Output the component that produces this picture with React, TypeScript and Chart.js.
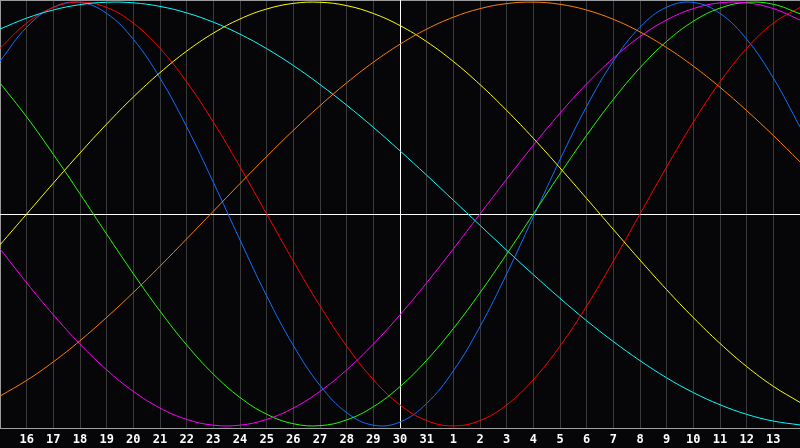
import React, { useEffect, useRef } from "react";
import { Chart, registerables } from "chart.js";

Chart.register(...registerables);

// Day labels, one per vertical grid line (left edge = 15, right edge = 14 of next month)
const dayLabels = [
  "15", "16", "17", "18", "19", "20", "21", "22", "23", "24", "25", "26", "27", "28", "29", "30", "31",
  "1", "2", "3", "4", "5", "6", "7", "8", "9", "10", "11", "12", "13", "14",
];

// Series values at each day (index 0..30)
const redValues = [
  0.7818, 0.901, 0.9749, 1, 0.9749, 0.901, 0.7818, 0.6235, 0.4339, 0.2225, 0,
  -0.2225, -0.4339, -0.6235, -0.7818, -0.901, -0.9749, -1, -0.9749, -0.901, -0.7818,
  -0.6235, -0.4339, -0.2225, 0, 0.2225, 0.4339, 0.6235, 0.7818, 0.901, 0.9749,
];
const blueValues = [
  0.7214, 0.8815, 0.9762, 0.9985, 0.9467, 0.8247, 0.6417, 0.4113, 0.1497, -0.1226, -0.3867,
  -0.6204, -0.809, -0.9376, -0.9966, -0.9818, -0.8941, -0.7402, -0.5314, -0.2828, -0.0137,
  0.2566, 0.5079, 0.7213, 0.8816, 0.9762, 0.9985, 0.9467, 0.8248, 0.6417, 0.4112,
];
const greenValues = [
  0.6182, 0.4582, 0.2815, 0.0951, -0.0951, -0.2815, -0.4582, -0.6182, -0.7557, -0.866, -0.945,
  -0.9898, -0.9989, -0.9718, -0.9096, -0.8146, -0.6901, -0.5407, -0.3717, -0.1893, 0,
  0.1893, 0.3717, 0.5407, 0.6901, 0.8146, 0.9096, 0.9718, 0.9989, 0.9898, 0.945,
];
const cyanValues = [
  0.8728, 0.9245, 0.963, 0.9881, 0.9994, 0.9966, 0.9798, 0.9492, 0.9053, 0.8488, 0.7803,
  0.7008, 0.6111, 0.5136, 0.4091, 0.298, 0.183, 0.0652, -0.0533, -0.171, -0.2863,
  -0.3977, -0.504, -0.6019, -0.692, -0.7731, -0.8429, -0.9003, -0.9455, -0.9773, -0.9955,
];
const yellowValues = [
  -0.1456, 0, 0.1456, 0.288, 0.4245, 0.552, 0.6672, 0.7686, 0.8536, 0.9204, 0.9675,
  0.994, 0.9993, 0.9834, 0.9464, 0.8893, 0.8133, 0.7199, 0.6108, 0.4889, 0.3573,
  0.2174, 0.073, -0.073, -0.2174, -0.3573, -0.4889, -0.6108, -0.7199, -0.8133, -0.8893,
];
const orangeValues = [
  -0.8594, -0.7853, -0.6978, -0.5981, -0.4879, -0.3705, -0.2462, -0.1175, 0.0131, 0.1435, 0.2713,
  0.3947, 0.5113, 0.6191, 0.7163, 0.8013, 0.8725, 0.9288, 0.9692, 0.9931, 0.9999,
  0.9897, 0.9625, 0.9188, 0.8594, 0.7853, 0.6978, 0.5981, 0.4879, 0.3705, 0.2462,
];
const magentaValues = [
  -0.1646, -0.3247, -0.4759, -0.6142, -0.7357, -0.8372, -0.9158, -0.9694, -0.9966, -0.9966, -0.9694,
  -0.9158, -0.8372, -0.7357, -0.6142, -0.4759, -0.3247, -0.1646, 0, 0.1646, 0.3247,
  0.4759, 0.6142, 0.7357, 0.8372, 0.9158, 0.9694, 0.9966, 0.9966, 0.9694, 0.9158,
];

const seriesList = [
  { name: "orange", color: "#ff8000", values: orangeValues },
  { name: "yellow", color: "#ffff00", values: yellowValues },
  { name: "cyan", color: "#00ffff", values: cyanValues },
  { name: "magenta", color: "#ff00ff", values: magentaValues },
  { name: "green", color: "#22ff00", values: greenValues },
  { name: "red", color: "#ff0000", values: redValues },
  { name: "blue", color: "#1070ff", values: blueValues },
];

const todayIndex = 15;
const yMin = -1.01;
const yMax = 1.01;

export default function App() {
  const ref = useRef<HTMLCanvasElement | null>(null);

  useEffect(() => {
    document.body.style.margin = "0";
    document.body.style.background = "#060608";
    const canvas = ref.current;
    if (!canvas) return;

    const framePlugin = {
      id: "frame",
      beforeDraw(chart: any) {
        const ctx = chart.ctx;
        ctx.save();
        ctx.fillStyle = "#060608";
        ctx.fillRect(0, 0, chart.width, chart.height);
        ctx.restore();
      },
      beforeDatasetsDraw(chart: any) {
        const ctx = chart.ctx;
        const a = chart.chartArea;
        const xs = chart.scales.x;
        const ys = chart.scales.y;
        ctx.save();
        ctx.lineWidth = 1;
        // top frame
        ctx.strokeStyle = "#9a9a9a";
        ctx.beginPath();
        ctx.moveTo(a.left, a.top + 0.5);
        ctx.lineTo(a.right, a.top + 0.5);
        ctx.stroke();
        // zero line and today line
        ctx.strokeStyle = "#ffffff";
        const y0 = Math.round(ys.getPixelForValue(0)) + 0.5;
        ctx.beginPath();
        ctx.moveTo(a.left, y0);
        ctx.lineTo(a.right, y0);
        ctx.stroke();
        const xt = Math.round(xs.getPixelForValue(todayIndex)) + 0.5;
        ctx.beginPath();
        ctx.moveTo(xt, a.top);
        ctx.lineTo(xt, a.bottom);
        ctx.stroke();
        ctx.restore();
      },
    };

    const datasets: any[] = seriesList.map((s) => ({
      label: s.name,
      data: s.values.map((v, idx) => ({ x: idx, y: v })),
      borderColor: s.color,
      borderWidth: 1,
      pointRadius: 0,
      pointHoverRadius: 0,
      tension: 0.4,
      fill: false,
    }));

    const chart = new Chart(canvas, {
      type: "line",
      data: { datasets },
      plugins: [framePlugin],
      options: {
        animation: false,
        responsive: false,
        devicePixelRatio: 1,
        layout: { padding: 0, autoPadding: false },
        plugins: { legend: { display: false }, tooltip: { enabled: false } },
        scales: {
          x: {
            type: "linear",
            min: 0,
            max: dayLabels.length - 1,
            afterFit(scale: any) {
              scale.height = 20;
              scale.paddingLeft = 0;
              scale.paddingRight = 0;
            },
            border: { display: true, color: "#a0a0a0", width: 1 },
            grid: {
              drawTicks: false,
              color: (c: any) => (c.index === 0 ? "#9a9a9a" : "#3a3a3a"),
              lineWidth: 1,
            },
            ticks: {
              stepSize: 1,
              autoSkip: false,
              maxRotation: 0,
              padding: 5,
              color: "#ffffff",
              font: { family: "DejaVu Sans Mono", size: 12, weight: "bold" },
              callback: (v: any) => {
                const i = Math.round(Number(v));
                if (i <= 0 || i >= dayLabels.length - 1) return "";
                return dayLabels[i];
              },
            },
          },
          y: {
            display: false,
            min: yMin,
            max: yMax,
          },
        },
      } as any,
    });

    return () => chart.destroy();
  }, []);

  return (
    <div style={{ position: "fixed", left: 0, top: 0, width: 800, height: 448, background: "#060608" }}>
      <canvas ref={ref} width={800} height={448} style={{ display: "block" }} />
    </div>
  );
}
